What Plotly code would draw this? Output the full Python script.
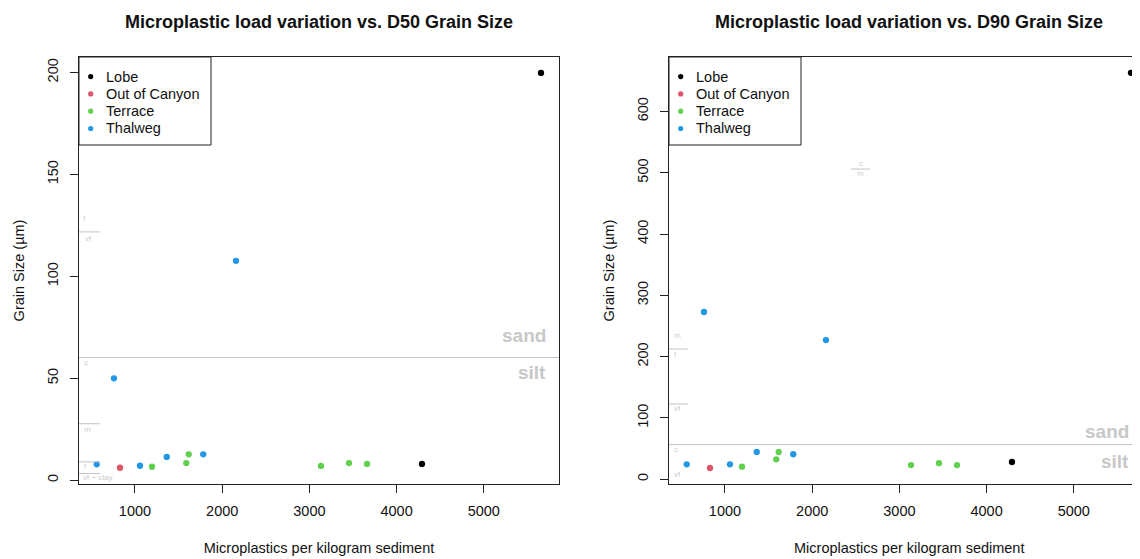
import plotly.graph_objects as go

# ---------------- data ----------------
groups = ["Lobe", "Out of Canyon", "Terrace", "Thalweg"]
colors = ["#000000", "#DF536B", "#61D04F", "#2297E6"]

lobe_x = [4291, 5656]
lobe_d50 = [8.0, 199.8]
lobe_d90 = [28.0, 663.0]

canyon_x = [828]
canyon_d50 = [6.1]
canyon_d90 = [18.2]

terrace_x = [1195, 1588, 1616, 3133, 3454, 3661]
terrace_d50 = [6.6, 8.4, 12.7, 7.0, 8.4, 8.0]
terrace_d90 = [20.3, 32.4, 44.3, 23.0, 26.0, 23.0]

thalweg_x = [561, 759, 1057, 1364, 1783, 2158]
thalweg_d50 = [7.8, 50.0, 7.1, 11.4, 12.7, 107.6]
thalweg_d90 = [24.2, 272.7, 24.2, 44.3, 40.6, 227.0]

x_ticks = [1000, 2000, 3000, 4000, 5000]
d50_ticks = [0, 50, 100, 150, 200]
d90_ticks = [0, 100, 200, 300, 400, 500, 600]

# grain-class reference levels (µm)
d50_sand_silt = 60.2
d50_short_lines = [121.8, 27.7, 9.0, 3.3]
d50_class_labels = [("f", 128.2, 0.012), ("vf", 118.4, 0.019), ("c", 57.5, 0.014),
                    ("m", 25.1, 0.017), ("f", 6.7, 0.013), ("vf + clay", 1.1, 0.04)]
d90_sand_silt = 56.5
d90_short_lines = [212.4, 122.6]
d90_class_labels = [("m", 234.1, 0.018), ("f", 203.7, 0.014), ("vf", 115.6, 0.018),
                    ("c", 49.2, 0.014), ("vf", 6.8, 0.017)]
d90_mid_line_x = [2445, 2663]
d90_mid_line_y = 506.0
d90_mid_labels = [("c", 515.4), ("m", 499.0)]

series = [
    (lobe_x, lobe_d50, lobe_d90),
    (canyon_x, canyon_d50, canyon_d90),
    (terrace_x, terrace_d50, terrace_d90),
    (thalweg_x, thalweg_d50, thalweg_d90),
]

# the page has an 8px body margin: work in reference pixels, shifted by 8,
# and keep the figure inside the body's content box
OFF = 8
W, H = 1140 - 2 * OFF, 559 - OFF


def px(xr):
    return (xr - OFF) / W


def py(yr):
    return 1 - (yr - OFF) / H


FONT = "Liberation Sans, Arial, sans-serif"
GRAY = "#cccccc"
LINEGRAY = "#c4c4c4"
DARK = "#222222"
PX_PER_UNIT = 480 / (5862.6 - 357.9)   # shared horizontal scale of both panels

fig = go.Figure()
for name, col, (xs, y50, y90) in zip(groups, colors, series):
    fig.add_trace(go.Scatter(x=xs, y=y50, mode="markers", name=name,
                             marker=dict(color=col, size=6.3),
                             xaxis="x", yaxis="y", showlegend=False))
for name, col, (xs, y50, y90) in zip(groups, colors, series):
    fig.add_trace(go.Scatter(x=xs, y=y90, mode="markers", name=name,
                             marker=dict(color=col, size=6.3),
                             xaxis="x2", yaxis="y2", showlegend=False))

ydom = [py(484), py(57)]
xdom1 = [px(79), px(559)]
xdom2 = [px(669), 1.0]
x2_max = 357.9 + (OFF + W - 669) / PX_PER_UNIT

axis_common = dict(showgrid=False, zeroline=False, showline=True, linecolor=DARK,
                   linewidth=1, ticks="outside", ticklen=8, tickcolor=DARK,
                   tickfont=dict(family=FONT, size=14.5, color="#111"))
XTITLE = "Microplastics per kilogram sediment"
xtitle = dict(text=XTITLE, font=dict(family=FONT, size=14.5), standoff=24)
ytitle = dict(text="Grain Size (µm)", font=dict(family=FONT, size=14.5), standoff=17)

fig.update_layout(
    width=W, height=H,
    margin=dict(l=0, r=0, t=0, b=0),
    paper_bgcolor="white", plot_bgcolor="white",
    font=dict(family=FONT, color="#111"),
    showlegend=False,
    xaxis=dict(domain=xdom1, range=[357.9, 5862.6], tickvals=x_ticks, mirror=True,
               anchor="y", ticklabelstandoff=6, title=xtitle, **axis_common),
    yaxis=dict(domain=ydom, range=[-1.86, 207.6], tickvals=d50_ticks, mirror=True,
               anchor="x", tickangle=-90, ticklabelstandoff=6, title=ytitle,
               **axis_common),
    xaxis2=dict(domain=xdom2, range=[357.9, x2_max], tickvals=x_ticks, mirror=True,
                anchor="y2", ticklabelstandoff=6, **axis_common),
    yaxis2=dict(domain=ydom, range=[-7.9, 688.8], tickvals=d90_ticks, mirror=False,
                anchor="x2", tickangle=-90, ticklabelstandoff=6, title=ytitle,
                **axis_common),
)

shapes = []
annotations = []

# titles
for cx, txt in [((79 + 559) / 2, "Microplastic load variation vs. D50 Grain Size"),
                ((669 + 1149) / 2, "Microplastic load variation vs. D90 Grain Size")]:
    annotations.append(dict(text="<b>%s</b>" % txt, x=px(cx), y=py(22.5), xref="paper",
                            yref="paper", showarrow=False, xanchor="center",
                            yanchor="middle", font=dict(family=FONT, size=18, color="#111")))

# x title of the right panel, centred on the full (cropped) panel width
annotations.append(dict(text=XTITLE, x=px((669 + 1149) / 2), y=py(548), xref="paper",
                        yref="paper", showarrow=False, xanchor="center", yanchor="middle",
                        font=dict(family=FONT, size=14.5, color="#111")))

# legends (drawn as a boxed key in each panel)
for left in (79, 669):
    shapes.append(dict(type="rect", xref="paper", yref="paper",
                       x0=px(left), x1=px(left + 132), y0=py(57), y1=py(145),
                       line=dict(color=DARK, width=1), fillcolor="white", layer="above"))
    for i, (name, col) in enumerate(zip(groups, colors)):
        yr = 76.6 + i * 17.3
        shapes.append(dict(type="circle", xref="paper", yref="paper",
                           xsizemode="pixel", ysizemode="pixel",
                           xanchor=px(left + 11.7), yanchor=py(yr),
                           x0=-2.6, x1=2.6, y0=-2.6, y1=2.6,
                           line=dict(color=col, width=0), fillcolor=col, layer="above"))
        annotations.append(dict(text=name, xref="paper", yref="paper",
                                x=px(left + 25), y=py(yr), showarrow=False,
                                xanchor="left", yanchor="middle",
                                font=dict(family=FONT, size=14.5, color="#111")))

# left panel reference lines / labels
shapes.append(dict(type="line", xref="x domain", yref="y", x0=0, x1=1,
                   y0=d50_sand_silt, y1=d50_sand_silt, line=dict(color=LINEGRAY, width=1)))
for yv in d50_short_lines:
    shapes.append(dict(type="line", xref="x domain", yref="y", x0=0, x1=0.044,
                       y0=yv, y1=yv, line=dict(color=LINEGRAY, width=1)))
for txt, yv, xf in d50_class_labels:
    annotations.append(dict(text=txt, xref="x domain", yref="y", x=xf, y=yv,
                            showarrow=False, xanchor="center", yanchor="middle",
                            font=dict(family=FONT, size=8, color=GRAY)))
for txt, yv in [("sand", 70.8), ("silt", 52.6)]:
    annotations.append(dict(text="<b>%s</b>" % txt, xref="x domain", yref="y",
                            x=0.977, y=yv, showarrow=False, xanchor="right",
                            yanchor="middle", font=dict(family=FONT, size=19, color="#c8c8c8")))

# right panel reference lines / labels
w2 = OFF + W - 669
shapes.append(dict(type="line", xref="x2 domain", yref="y2", x0=0, x1=1,
                   y0=d90_sand_silt, y1=d90_sand_silt, line=dict(color=LINEGRAY, width=1)))
for yv in d90_short_lines:
    shapes.append(dict(type="line", xref="x2 domain", yref="y2", x0=0, x1=19 / w2,
                       y0=yv, y1=yv, line=dict(color=LINEGRAY, width=1)))
shapes.append(dict(type="line", xref="x2", yref="y2", x0=d90_mid_line_x[0],
                   x1=d90_mid_line_x[1], y0=d90_mid_line_y, y1=d90_mid_line_y,
                   line=dict(color=LINEGRAY, width=1)))
for txt, yv, xf in d90_class_labels:
    annotations.append(dict(text=txt, xref="x2 domain", yref="y2", x=xf * 471 / w2, y=yv,
                            showarrow=False, xanchor="center", yanchor="middle",
                            font=dict(family=FONT, size=8, color=GRAY)))
for txt, yv in d90_mid_labels:
    annotations.append(dict(text=txt, xref="x2", yref="y2",
                            x=(d90_mid_line_x[0] + d90_mid_line_x[1]) / 2, y=yv,
                            showarrow=False, xanchor="center", yanchor="middle",
                            font=dict(family=FONT, size=8, color=GRAY)))
for txt, yv in [("sand", 77.4), ("silt", 28.5)]:
    annotations.append(dict(text="<b>%s</b>" % txt, xref="x2 domain", yref="y2",
                            x=0.998, y=yv, showarrow=False, xanchor="right",
                            yanchor="middle", font=dict(family=FONT, size=19, color="#c8c8c8")))

fig.update_layout(shapes=shapes, annotations=annotations)
fig.write_html("out.html")
